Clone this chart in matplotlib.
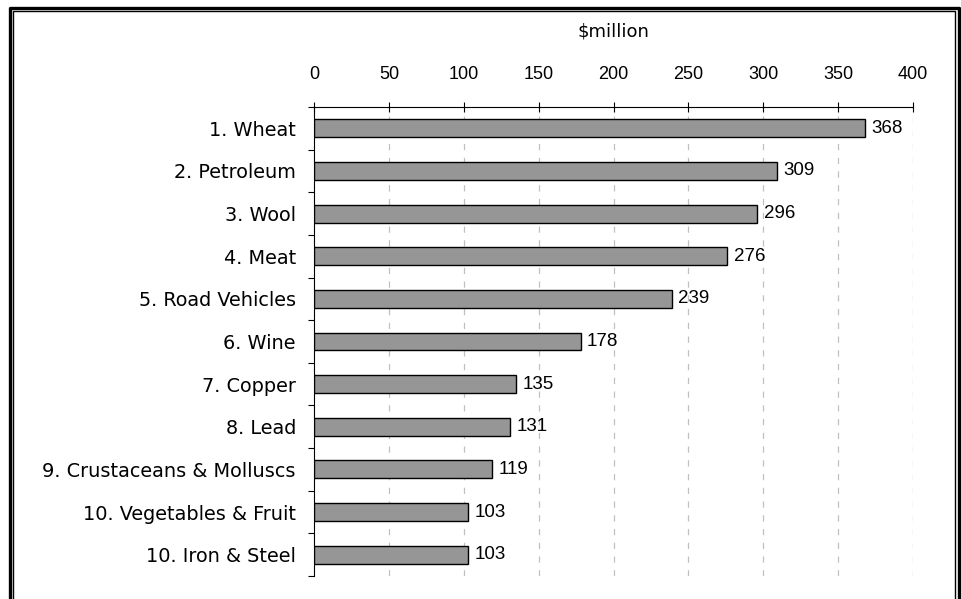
import matplotlib
matplotlib.use("Agg")
import matplotlib.pyplot as plt
from matplotlib.lines import Line2D
import numpy as np

plt.rcParams["font.family"] = ["Liberation Sans", "DejaVu Sans"]

# top exports, $million
categories = ["1. Wheat", "2. Petroleum", "3. Wool", "4. Meat", "5. Road Vehicles",
              "6. Wine", "7. Copper", "8. Lead", "9. Crustaceans & Molluscs",
              "10. Vegetables & Fruit", "10. Iron & Steel"]
values = [368, 309, 296, 276, 239, 178, 135, 131, 119, 103, 103]
xticks = [0, 50, 100, 150, 200, 250, 300, 350, 400]

W, H = 961, 599
fig = plt.figure(figsize=(W / 100, H / 100), dpi=100)
ax = fig.add_axes([314 / W, 1 - 576 / H, (913 - 314) / W, (576 - 107) / H])

ypos = np.arange(len(categories))
ax.barh(ypos, values, height=0.42, color="#969696", edgecolor="black", linewidth=1, zorder=3)

for y, v in zip(ypos, values):
    ax.annotate(f"{v}", xy=(v, y), xytext=(4.5, 0), textcoords="offset points",
                va="center", ha="left", fontsize=13.5, zorder=4)

ax.set_xlim(0, 400)
ax.set_ylim(len(categories) - 0.5, -0.5)
ax.set_xticks(xticks)
ax.xaxis.tick_top()
ax.xaxis.set_label_position("top")
ax.set_xlabel("$million", fontsize=13, family="DejaVu Sans", labelpad=21)
ax.tick_params(axis="x", direction="inout", length=7, width=0.8, labelsize=13, pad=14)

# category labels centred, tick marks at the boundaries
ax.set_yticks(ypos)
ax.set_yticklabels(categories, fontsize=13.9, family="DejaVu Sans")
ax.tick_params(axis="y", which="major", length=0, pad=13)
ax.set_yticks(np.arange(-0.5, len(categories)), minor=True)
ax.tick_params(axis="y", which="minor", direction="out", length=4.5, width=0.8)

for x in xticks[1:]:
    ax.axvline(x, color="#c0c0c0", linestyle=(0, (5, 6)), linewidth=0.9, zorder=1)

ax.spines["right"].set_visible(False)
ax.spines["bottom"].set_visible(False)
ax.spines["top"].set_linewidth(0.8)
ax.spines["left"].set_linewidth(0.8)

# double frame around the chart (open at the bottom)
def frame(x0, x1, y0, lw):
    xs = [x0 / W, x0 / W, x1 / W, x1 / W]
    ys = [0, 1 - y0 / H, 1 - y0 / H, 0]
    fig.add_artist(Line2D(xs, ys, transform=fig.transFigure, color="black", linewidth=lw))

frame(9.5, 959, 7.5, 2.4)
frame(12.5, 955, 10.5, 1.0)

fig.savefig("out.png", dpi=100)
